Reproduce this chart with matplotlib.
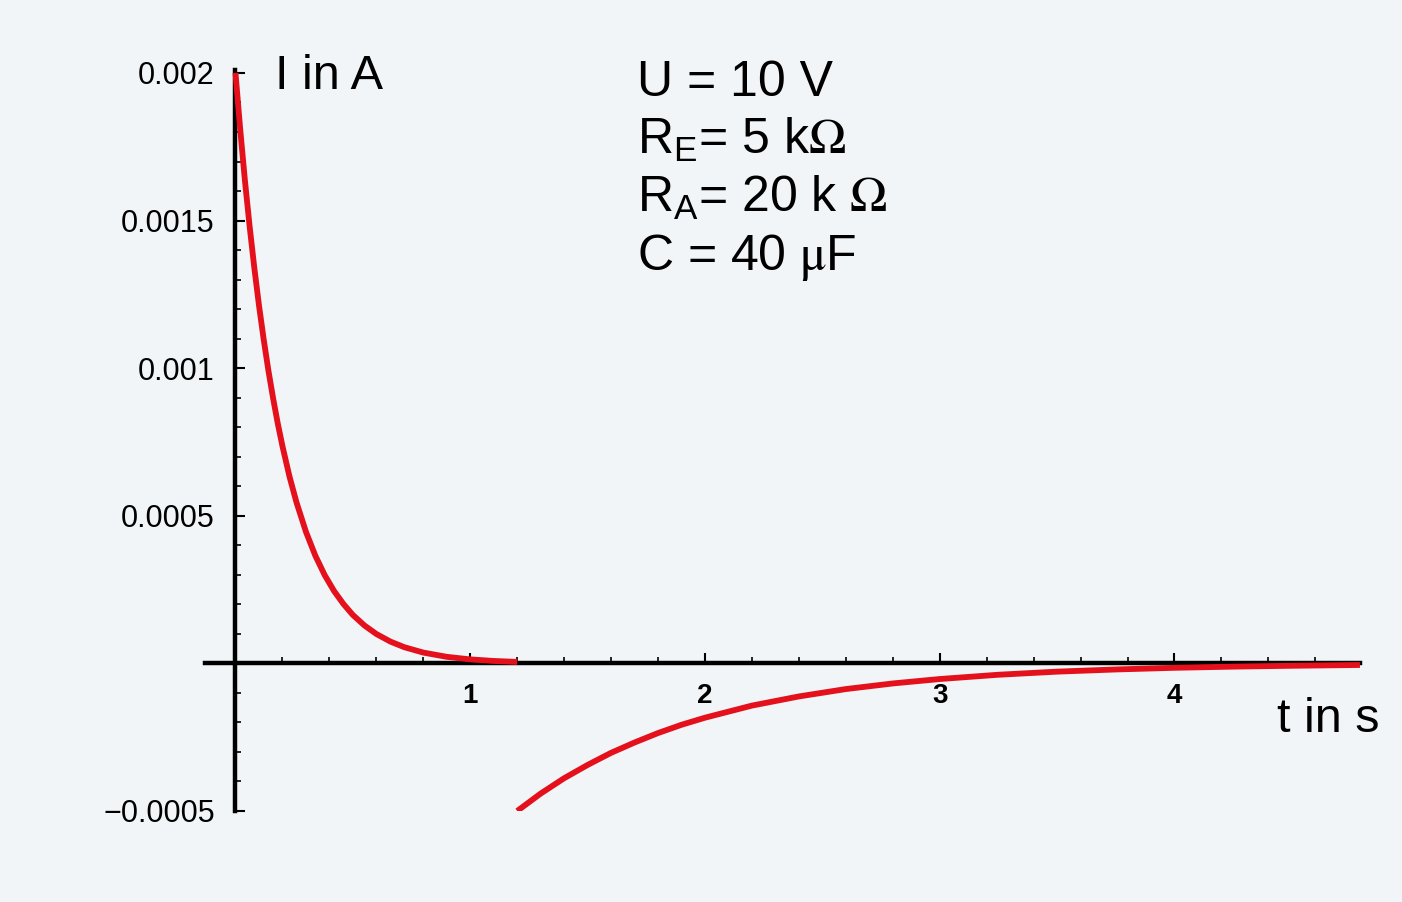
import matplotlib
matplotlib.use('Agg')
from matplotlib import pyplot as plt
from matplotlib.ticker import FixedLocator, MultipleLocator, FixedFormatter

plt.rcParams['font.family'] = ['Liberation Sans', 'DejaVu Sans']
plt.rcParams['mathtext.fontset'] = 'stix'

# charging current
t_charge = [0, 0.02, 0.04, 0.06, 0.08, 0.1, 0.12, 0.14, 0.16, 0.18, 0.2, 0.23,
            0.26, 0.3, 0.34, 0.38, 0.42, 0.46, 0.5, 0.55, 0.6, 0.66, 0.72, 0.8,
            0.9, 1.0, 1.1, 1.2]
i_charge = [0.0020, 0.00181, 0.001637, 0.001482, 0.001341, 0.001213, 0.001098,
            0.000993, 0.000899, 0.000813, 0.000736, 0.000633, 0.000545,
            0.000446, 0.000365, 0.000299, 0.000245, 0.000201, 0.000164,
            0.000128, 0.0000996, 0.0000738, 0.0000546, 0.0000366, 0.0000222,
            0.0000135, 0.0000082, 0.000005]

# discharging current
t_discharge = [1.2, 1.3, 1.4, 1.5, 1.6, 1.7, 1.8, 1.9, 2.0, 2.2, 2.4, 2.6, 2.8,
               3.0, 3.25, 3.5, 3.75, 4.0, 4.25, 4.5, 4.79]
i_discharge = [-0.0005, -0.000441, -0.000389, -0.000344, -0.000303, -0.000268,
               -0.000236, -0.000208, -0.000184, -0.000143, -0.000112,
               -0.000087, -0.000068, -0.000053, -0.0000385, -0.000028,
               -0.0000206, -0.000015, -0.000011, -0.0000081, -0.0000054]

x_ticks = [1, 2, 3, 4]
x_labels = ['1', '2', '3', '4']
y_ticks = [-0.0005, 0.0005, 0.001, 0.0015, 0.002]
y_labels = ['\u22120.0005', '0.0005', '0.001', '0.0015', '0.002']

info_lines = ['U = 10 V',
              r'$\mathregular{R_E}$= 5 k$\Omega$',
              r'$\mathregular{R_A}$= 20 k $\Omega$',
              r'C = 40 $\mathrm{\mu}$F']

bg = '#f1f5f7'
red = '#e4111c'

fig = plt.figure(figsize=(14.02, 9.02), dpi=100, facecolor=bg)
ax = fig.add_axes([0.1462, 0.1009, 0.8238, 0.8215])
ax.set_facecolor(bg)

ax.plot(t_charge, i_charge, color=red, lw=4.2, solid_capstyle='butt', zorder=3)
ax.plot(t_discharge, i_discharge, color=red, lw=4.2, solid_capstyle='butt', zorder=3)

ax.set_xlim(-0.13, 4.79)
ax.set_ylim(-0.0005, 0.00201)

for s in ['top', 'right']:
    ax.spines[s].set_visible(False)
ax.spines['left'].set_position(('data', 0))
ax.spines['bottom'].set_position(('data', 0))
ax.spines['left'].set_linewidth(3.2)
ax.spines['bottom'].set_linewidth(3.2)
ax.spines['left'].set_zorder(2)
ax.spines['bottom'].set_zorder(2)

ax.xaxis.set_major_locator(FixedLocator(x_ticks))
ax.xaxis.set_major_formatter(FixedFormatter(x_labels))
ax.xaxis.set_minor_locator(MultipleLocator(0.2))
ax.yaxis.set_major_locator(FixedLocator(y_ticks))
ax.yaxis.set_major_formatter(FixedFormatter(y_labels))
ax.yaxis.set_minor_locator(MultipleLocator(0.0001))

ax.tick_params(axis='x', which='major', direction='in', length=7, width=1.5,
               pad=14, labelsize=20)
ax.tick_params(axis='x', which='minor', direction='in', length=4, width=1.2)
ax.tick_params(axis='y', which='major', direction='in', length=7, width=1.5,
               pad=15, labelsize=22)
ax.tick_params(axis='y', which='minor', direction='in', length=4, width=1.2)
for lab in ax.get_xticklabels():
    lab.set_fontweight('bold')

ax.text(0.17, 0.001945, 'I in A', fontsize=35, va='baseline', ha='left')
ax.text(4.872, -0.000234, 't in s', fontsize=35, va='baseline', ha='right')

for k, line in enumerate(info_lines):
    ax.text(1.71, 0.001921 - k * 0.000196, line, fontsize=36, va='baseline', ha='left')

plt.savefig('out.png', dpi=100, facecolor=bg)
